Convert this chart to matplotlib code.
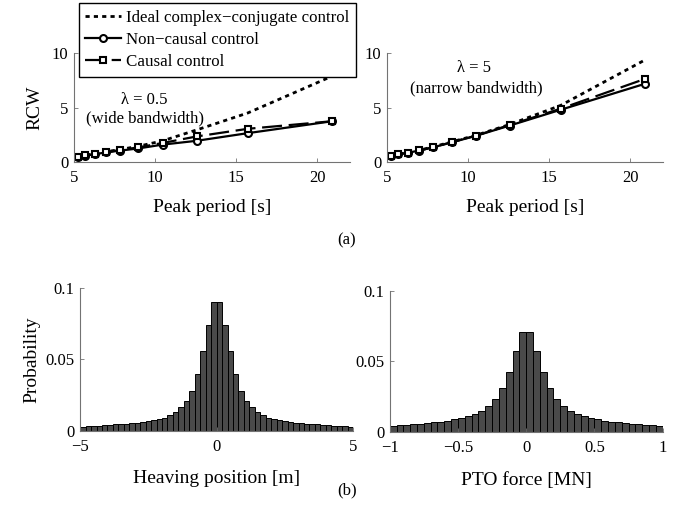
import numpy as np
import matplotlib
matplotlib.use("Agg")
import matplotlib.pyplot as plt

plt.rcParams['font.family'] = ['Liberation Serif', 'DejaVu Serif']
plt.rcParams['font.size'] = 12

# peak periods [s]
periods = [5.24, 5.71, 6.28, 6.98, 7.85, 8.98, 10.47, 12.57, 15.71, 20.94]

# lambda = 0.5 (wide bandwidth)
ideal_wide = [0.5, 0.62, 0.78, 0.95, 1.15, 1.45, 1.95, 2.95, 4.5, 7.9]
noncausal_wide = [0.45, 0.58, 0.72, 0.88, 1.05, 1.25, 1.6, 1.95, 2.65, 3.75]
causal_wide = [0.47, 0.6, 0.75, 0.92, 1.1, 1.35, 1.75, 2.35, 3.05, 3.75]

# lambda = 5 (narrow bandwidth)
ideal_narrow = [0.58, 0.72, 0.88, 1.08, 1.4, 1.85, 2.45, 3.45, 5.2, 9.4]
noncausal_narrow = [0.55, 0.7, 0.85, 1.05, 1.35, 1.8, 2.4, 3.35, 4.8, 7.2]
causal_narrow = [0.56, 0.71, 0.86, 1.06, 1.36, 1.82, 2.42, 3.4, 4.9, 7.65]

# histograms: bar heights from centre outward (symmetric)
heave_half = [0.090, 0.074, 0.056, 0.040, 0.028, 0.021, 0.017, 0.0135, 0.011,
              0.0093, 0.0083, 0.0075, 0.0068, 0.0062, 0.0058, 0.0054, 0.0051,
              0.0048, 0.0045, 0.0043, 0.0040, 0.0037, 0.0034, 0.0031, 0.0028]
pto_half = [0.071, 0.057, 0.0425, 0.031, 0.0236, 0.018, 0.015, 0.0128, 0.011,
            0.0098, 0.0088, 0.008, 0.0073, 0.0068, 0.0063, 0.0058, 0.0054,
            0.005, 0.0047, 0.0044]


def style_axes(ax):
    for s in ['top', 'right']:
        ax.spines[s].set_visible(False)
    for s in ['left', 'bottom']:
        ax.spines[s].set_color('0.45')
        ax.spines[s].set_linewidth(0.8)
    ax.tick_params(direction='in', length=3, width=0.6, color='0.45', labelsize=12)
    ax.tick_params(axis='x', pad=6)
    ax.tick_params(axis='y', pad=4)


def rcw_panel(ax, ideal, noncausal, causal):
    ax.plot(periods, ideal, color='k', lw=2.0, ls=(0, (1.5, 1.5)),
            label='Ideal complex\u2212conjugate control')
    ax.plot(periods, noncausal, color='k', lw=1.6, marker='o', ms=5,
            mfc='white', mew=1.5, label='Non\u2212causal control')
    ax.plot(periods, causal, color='k', lw=1.6, ls=(0, (9, 3)), marker='s', ms=4.5,
            mfc='white', mew=1.5, label='Causal control')
    ax.set_xlim(5, 22)
    ax.set_ylim(0, 10)
    ax.set_xticks([5, 10, 15, 20])
    ax.set_yticks([0, 5, 10])
    ax.set_xlabel('Peak period [s]', fontsize=14, labelpad=9)
    style_axes(ax)


def hist_panel(ax, half, width, lim):
    n = len(half)
    heights = half[::-1] + half
    edges = [-lim + i * width for i in range(2 * n)]
    ax.bar(edges, heights, width=width, align='edge', color='#4a4a4a',
           edgecolor='k', linewidth=0.7)
    ax.set_xlim(-lim, lim)
    ax.set_ylim(0, 0.1)
    ax.set_yticks([0, 0.05, 0.1])
    ax.set_yticklabels(['0', '0.05', '0.1'])
    style_axes(ax)


fig = plt.figure(figsize=(6.91, 5.21), dpi=100)

ax1 = fig.add_axes([0.107, 0.689, 0.399, 0.209])
rcw_panel(ax1, ideal_wide, noncausal_wide, causal_wide)
ax1.set_ylabel('RCW', fontsize=14, labelpad=6)
ax1.text(9.36, 5.7, '\u03bb = 0.5', ha='center', va='center', fontsize=12)
ax1.text(9.36, 4.0, '(wide bandwidth)', ha='center', va='center', fontsize=12)

ax2 = fig.add_axes([0.560, 0.689, 0.399, 0.209])
rcw_panel(ax2, ideal_narrow, noncausal_narrow, causal_narrow)
ax2.text(10.35, 8.6, '\u03bb = 5', ha='center', va='center', fontsize=12)
ax2.text(10.5, 6.8, '(narrow bandwidth)', ha='center', va='center', fontsize=12)

handles, labels = ax1.get_legend_handles_labels()
fig.legend(handles, labels, loc='upper left', bbox_to_anchor=(0.109, 1.0),
           fontsize=12.2, frameon=True, fancybox=False, edgecolor='k',
           handlelength=2.1, handletextpad=0.3, borderpad=0.4,
           labelspacing=0.35, framealpha=1, borderaxespad=0.2)

ax3 = fig.add_axes([0.116, 0.173, 0.395, 0.274])
hist_panel(ax3, heave_half, 0.2, 5)
ax3.set_xticks([-5, 0, 5])
ax3.set_xticklabels(['\u22125', '0', '5'])
ax3.set_xlabel('Heaving position [m]', fontsize=14, labelpad=11)
ax3.set_ylabel('Probability', fontsize=14, labelpad=4)

ax4 = fig.add_axes([0.564, 0.171, 0.395, 0.271])
hist_panel(ax4, pto_half, 0.05, 1)
ax4.set_xticks([-1, -0.5, 0, 0.5, 1])
ax4.set_xticklabels(['\u22121', '\u22120.5', '0', '0.5', '1'])
ax4.set_xlabel('PTO force [MN]', fontsize=14, labelpad=11)

fig.text(0.502, 0.539, '(a)', ha='center', va='center', fontsize=12)
fig.text(0.502, 0.058, '(b)', ha='center', va='center', fontsize=12)

fig.savefig('out.png', dpi=100)
